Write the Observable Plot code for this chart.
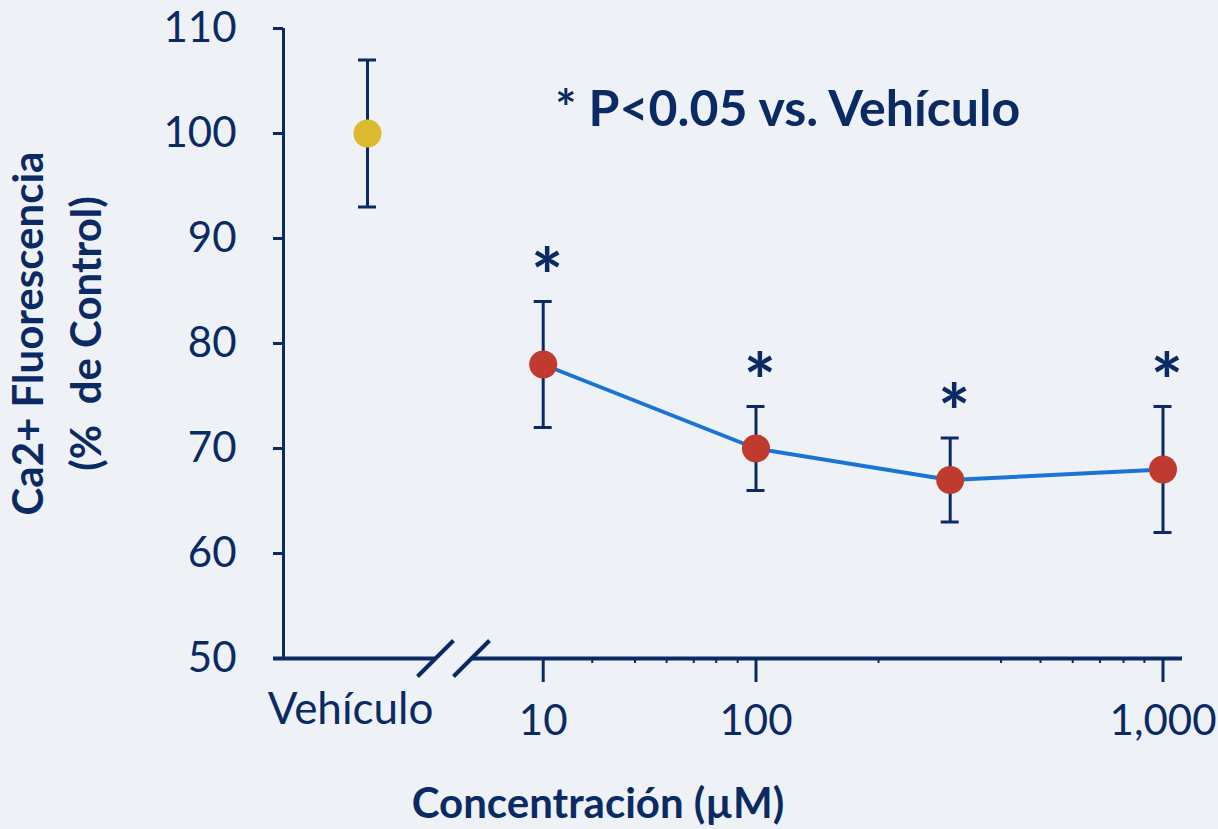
<!DOCTYPE html>
<html>
<head>
<meta charset="utf-8">
<script src="https://cdn.jsdelivr.net/npm/d3@7"></script>
<script src="https://cdn.jsdelivr.net/npm/@observablehq/plot@0.6"></script>
<style>
  html, body { margin: 0; padding: 0; background: #eef2f7; }
</style>
</head>
<body>
<div id="chart"></div>
<script>
// ---- data ----
const concentrations = [10, 100, 300, 1000];     // µM
const means = [78, 70, 67, 68];                  // % de Control
const lowerErr = [72, 66, 63, 62];
const upperErr = [84, 74, 71, 74];
const vehicleLabel = "Vehículo";
const vehicleMean = 100;
const vehicleLow = 93;
const vehicleHigh = 107;
const majorTicks = [10, 100, 1000];
const minorTicks = [17, 27, 38, 51, 65, 82, 200, 400, 500, 600, 700, 800, 900];
const yTicks = [50, 60, 70, 80, 90, 100, 110];
const sigLabel = "*";
const noteText = "* P<0.05 vs. Vehículo";
const xTitle = "Concentración (µM)";
const yTitle = "Ca2+ Fluorescencia\n(%  de Control)";

// pseudo-positions on the broken log axis (vehicle slot, axis break)
const VEH = 0.3, BRK = 1, XLO = 0.1, XHI = 1100;
const xDomain = [XLO, VEH, BRK, 10, 100, 1000, XHI];
const xRange = [283, 367, 453, 542.7, 755.5, 1162.5, 1182];

const navy = "#0b2a63";
const red = "#c03a2f";
const gold = "#dbba2f";
const blue = "#1a74d6";
const bg = "#eef2f7";

const series = concentrations.map((c, i) => ({x: c, y: means[i], lo: lowerErr[i], hi: upperErr[i]}));
const vehicle = [{x: VEH, y: vehicleMean, lo: vehicleLow, hi: vehicleHigh, label: vehicleLabel}];
const allPts = vehicle.concat(series);

const slash = {draw(ctx) { ctx.moveTo(-18, 18); ctx.lineTo(18, -18); }};

const chart = Plot.plot({
  width: 1218,
  height: 829,
  marginLeft: 283,
  marginRight: 36,
  marginTop: 28,
  marginBottom: 171,
  x: {type: "log", domain: xDomain, range: xRange, axis: null},
  y: {domain: [50, 110], axis: null},
  style: {background: bg, color: navy, fontFamily: "Lato, sans-serif", fontSize: "42px"},
  marks: [
    // y axis line + ticks
    Plot.ruleX([XLO], {stroke: navy, strokeWidth: 3}),
    Plot.axisY(yTicks, {tickSize: 10, tickPadding: 37, strokeWidth: 3, stroke: navy, fill: navy, label: null}),
    // x axis line with break
    Plot.ruleY([50], {x1: XLO, x2: BRK, insetLeft: -10, insetRight: 18, stroke: navy, strokeWidth: 4}),
    Plot.ruleY([50], {x1: BRK, x2: XHI, insetLeft: 18, stroke: navy, strokeWidth: 4}),
    Plot.dot([{x: BRK, y: 50}], {x: "x", y: "y", symbol: slash, dx: -18, fill: "none", stroke: navy, strokeWidth: 4}),
    Plot.dot([{x: BRK, y: 50}], {x: "x", y: "y", symbol: slash, dx: 18, fill: "none", stroke: navy, strokeWidth: 4}),
    Plot.axisX(minorTicks, {tickSize: 5, tickFormat: () => "", strokeWidth: 2, stroke: navy, label: null}),
    Plot.axisX(majorTicks, {tickSize: 24, tickPadding: 23, tickFormat: d3.format(","), strokeWidth: 3, stroke: navy, fill: navy, label: null}),
    Plot.text(vehicle, {x: "x", y: () => 50, text: "label", dy: 34, dx: -17, lineAnchor: "top", fill: navy, fontSize: 44}),
    // error bars
    Plot.ruleX(allPts, {x: "x", y1: "lo", y2: "hi", stroke: navy, strokeWidth: 3}),
    Plot.ruleY(allPts, {y: "lo", x1: "x", x2: "x", insetLeft: -9, insetRight: -9, stroke: navy, strokeWidth: 3}),
    Plot.ruleY(allPts, {y: "hi", x1: "x", x2: "x", insetLeft: -9, insetRight: -9, stroke: navy, strokeWidth: 3}),
    // line + dots
    Plot.line(series, {x: "x", y: "y", stroke: blue, strokeWidth: 4}),
    Plot.dot(series, {x: "x", y: "y", r: 14, fill: red}),
    Plot.dot(vehicle, {x: "x", y: "y", r: 14, fill: gold}),
    // significance stars
    Plot.text(series, {x: "x", y: "hi", text: () => sigLabel, dx: 4, dy: -22, lineAnchor: "middle", fontSize: 76, fontWeight: "bold", fill: navy}),
    // note
    Plot.text([noteText], {x: () => 10, y: () => 102.2, text: d => d, dx: 12, textAnchor: "start", lineAnchor: "middle", fontSize: 50, fontWeight: "bold", fill: navy}),
    // axis titles
    Plot.text([xTitle], {frameAnchor: "bottom", text: d => d, dx: -135, dy: 146, lineAnchor: "middle", fontSize: 42, fontWeight: "bold", fill: navy}),
    Plot.text([yTitle], {frameAnchor: "left", text: d => d, rotate: -90, dx: -230, dy: -10, textAnchor: "middle", lineAnchor: "middle", lineHeight: 1.38, fontSize: 42, fontWeight: "bold", fill: navy})
  ]
});
document.getElementById("chart").appendChild(chart);
</script>
</body>
</html>
